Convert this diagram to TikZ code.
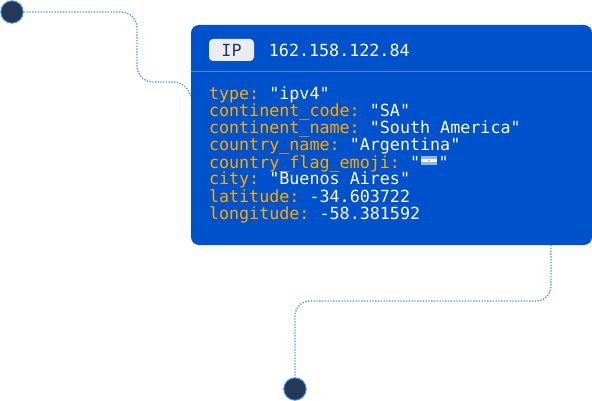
\documentclass[tikz,border=0pt]{standalone}
\usepackage{fontspec}
\usepackage{xcolor}
\usetikzlibrary{positioning}
\newfontfamily\codefont{DejaVu Sans Mono}
\definecolor{cardblue}{HTML}{0052CC}
\definecolor{cardline}{HTML}{4C86E0}
\definecolor{keyorange}{HTML}{FFAB00}
\definecolor{wireblue}{HTML}{4C9AFF}
\definecolor{dotnavy}{HTML}{253858}
\definecolor{badgegrey}{HTML}{EBECF0}
\definecolor{flagblue}{HTML}{8DBBE8}
\newcommand{\field}[2]{\textcolor{keyorange}{#1:} #2}
\frenchspacing

\begin{document}
\begin{tikzpicture}[x=1pt,y=-1pt,node distance=0pt,
        card/.style={rectangle,rounded corners=8pt,fill=cardblue,draw=none,
          minimum width=401pt,minimum height=220pt,inner sep=0pt},
        enddot/.style={circle,fill=dotnavy,draw=wireblue,line width=0.9pt,
          minimum size=22.5pt,inner sep=0pt},
        badge/.style={rectangle,rounded corners=4pt,fill=badgegrey,text=dotnavy,
          minimum width=45pt,minimum height=22pt,inner sep=0pt,font=\codefont\fontsize{16.7pt}{17pt}\selectfont},
        address/.style={text=white,inner sep=0pt,font=\codefont\fontsize{16.7pt}{17pt}\selectfont},
        fieldline/.style={text=white,inner sep=0pt,outer sep=0pt,text height=12.5pt,text depth=4.5pt,
          font=\codefont\fontsize{16.7pt}{17pt}\selectfont},
        flagband/.style={rectangle,inner sep=0pt,outer sep=0pt,minimum width=16pt,minimum height=3.2pt},
        wire/.style={draw=wireblue,line width=1.3pt,dash pattern=on 1.4pt off 1.4pt}]
        \useasboundingbox (0,0) rectangle (592,401);
        \node[enddot] (topdot) at (12,12) {};
        \node[enddot] (bottomdot) at (295,389) {};
        \coordinate (topbend) at (137,12);
        \coordinate (midbend) at (137,82);
        \coordinate (topjoin) at (191,96);
        \coordinate (bottomjoin) at (551,245);
        \coordinate (rightbend) at (551,301);
        \coordinate (leftbend) at (295,301);
        \draw[wire,rounded corners=16pt] (topdot) -- (topbend) -- (midbend) -- (160,82);
        \draw[wire] (160,82) -- (173,82) .. controls (182,82) and (187,87) .. (topjoin);
        \draw[wire,rounded corners=15pt] (bottomjoin) -- (rightbend) -- (leftbend) -- (bottomdot);
        \node[card] (card) at (391.5,135) {};
        \node[badge] (ipbadge) at (231.5,50) {IP};
        \node[address,right=14.5pt of ipbadge] (ipvalue) {162.158.122.84};
        \coordinate (ruleleft) at (191,71);
        \coordinate (ruleright) at (592,71);
        \draw[cardline,line width=0.9pt] (ruleleft) -- (ruleright);
        \node[fieldline,anchor=north west] (type) at (209,87.5) {\field{type}{"ipv4"}};
        \node[fieldline,below=of type.south west,anchor=north west] (code) {\field{continent\_code}{"SA"}};
        \node[fieldline,below=of code.south west,anchor=north west] (continent) {\field{continent\_name}{"South America"}};
        \node[fieldline,below=of continent.south west,anchor=north west] (country) {\field{country\_name}{"Argentina"}};
        \node[fieldline,below=of country.south west,anchor=north west] (emoji) {\field{country\_flag\_emoji}{"\hspace{18.6pt}"}};
        \node[fieldline,below=of emoji.south west,anchor=north west] (city) {\field{city}{"Buenos Aires"}};
        \node[fieldline,below=of city.south west,anchor=north west] (latitude) {\field{latitude}{-34.603722}};
        \node[fieldline,below=of latitude.south west,anchor=north west] (longitude) {\field{longitude}{-58.381592}};
        % flag
        \node[flagband,fill=white] (flagmid) at (429,160.5) {};
        \node[flagband,fill=flagblue,above=of flagmid] (flagtop) {};
        \node[flagband,fill=flagblue,below=of flagmid] (flagbottom) {};
        \node[circle,fill=keyorange,inner sep=0pt,minimum size=2.4pt] (flagsun) at (flagmid) {};
      \end{tikzpicture}
\end{document}
